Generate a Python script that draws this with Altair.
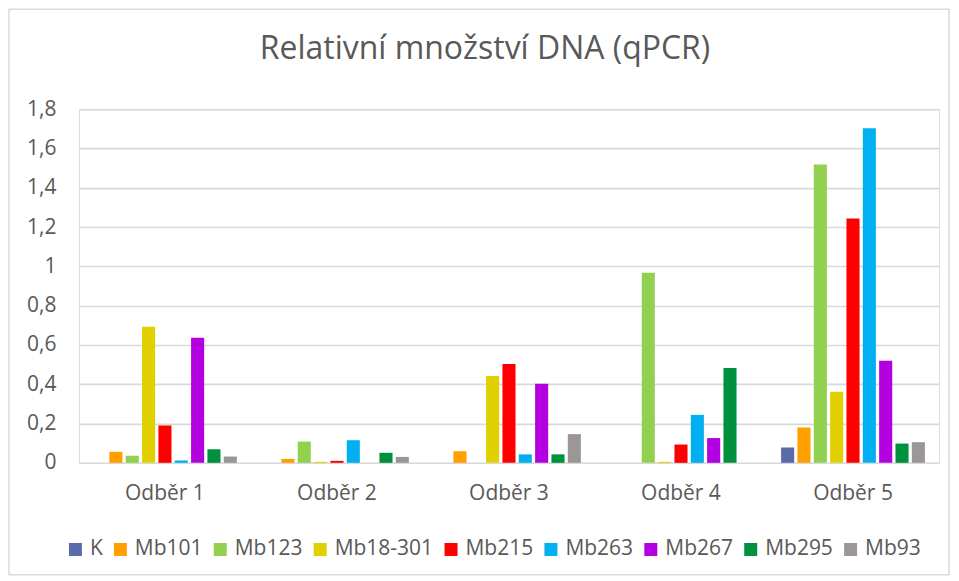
import altair as alt
import pandas as pd

categories = ["Odběr 1", "Odběr 2", "Odběr 3", "Odběr 4", "Odběr 5"]
series = ["K", "Mb101", "Mb123", "Mb18-301", "Mb215", "Mb263", "Mb267", "Mb295", "Mb93"]
colors = ["#5B6BAA", "#FF9F00", "#92D050", "#E0D000", "#FF0000",
          "#00B0F0", "#B300E0", "#00913F", "#9C9696"]

values_K = [0, 0, 0, 0, 0.078]
values_Mb101 = [0.056, 0.020, 0.059, 0, 0.180]
values_Mb123 = [0.036, 0.108, 0, 0.967, 1.519]
values_Mb18_301 = [0.693, 0.005, 0.442, 0.005, 0.362]
values_Mb215 = [0.190, 0.010, 0.503, 0.093, 1.244]
values_Mb263 = [0.012, 0.115, 0.043, 0.244, 1.703]
values_Mb267 = [0.637, 0, 0.403, 0.126, 0.519]
values_Mb295 = [0.069, 0.051, 0.043, 0.483, 0.098]
values_Mb93 = [0.032, 0.030, 0.146, 0, 0.105]

y_ticks = [0, 0.2, 0.4, 0.6, 0.8, 1.0, 1.2, 1.4, 1.6, 1.8]

all_values = [values_K, values_Mb101, values_Mb123, values_Mb18_301, values_Mb215,
              values_Mb263, values_Mb267, values_Mb295, values_Mb93]

rows = []
for s, vals in zip(series, all_values):
    for c, v in zip(categories, vals):
        rows.append({"odber": c, "serie": s, "hodnota": v})
df = pd.DataFrame(rows)

FONT = "Open Sans"
TXT = "#595959"

bars = alt.Chart(df).mark_bar().encode(
    x=alt.X("odber:N", sort=categories,
            scale=alt.Scale(paddingInner=0.145, paddingOuter=0.0725),
            axis=alt.Axis(title=None, labelAngle=0, ticks=False, domain=False,
                          labelPadding=20, labelFontSize=21, labelColor=TXT,
                          labelFont=FONT, grid=False)),
    xOffset=alt.XOffset("serie:N", sort=series,
                        scale=alt.Scale(paddingInner=0.2, paddingOuter=0.1)),
    y=alt.Y("hodnota:Q", scale=alt.Scale(domain=[0, 1.8], nice=False),
            axis=alt.Axis(title=None, values=y_ticks, ticks=False, domain=False,
                          labelPadding=23, labelFontSize=21, labelColor=TXT,
                          labelFont=FONT, gridColor="#D9D9D9", gridWidth=1.6,
                          labelExpr="replace(format(datum.value, '.1~f'), '.', ',')")),
    color=alt.Color("serie:N", sort=series,
                    scale=alt.Scale(domain=series, range=colors),
                    legend=alt.Legend(title=None, orient="none", direction="horizontal",
                                      columns=9, legendX=-14, legendY=430,
                                      symbolType="square", symbolSize=169,
                                      symbolStrokeWidth=0, labelFontSize=21,
                                      labelFont=FONT, labelColor=TXT,
                                      labelOffset=4, columnPadding=7)),
)

frame = alt.Chart(alt.Data(values=[{}])).mark_rect(
    filled=False, stroke="#D9D9D9", strokeWidth=1.5
).encode(
    x=alt.value(-70), x2=alt.value(871), y=alt.value(-100), y2=alt.value(466)
)

chart = alt.layer(frame, bars).properties(
    width=861, height=354,
    title=alt.TitleParams("Relativní množství DNA (qPCR)", fontSize=32, color=TXT,
                          font=FONT, fontWeight="normal", anchor="middle",
                          frame="group", baseline="alphabetic", offset=-83, dx=-24),
    padding={"left": 71, "top": 101, "right": 12, "bottom": 115},
    autosize=alt.AutoSizeParams(type="none"),
).configure_view(stroke=None).configure(background="white")

chart.save("out.html", embed_options={"renderer": "svg", "actions": False})
